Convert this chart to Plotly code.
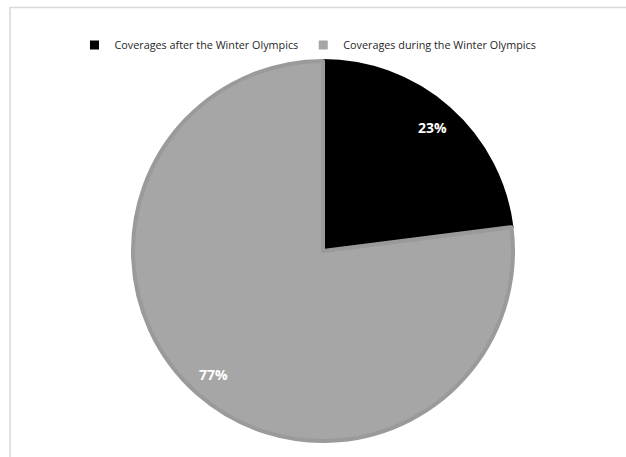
import math
import plotly.graph_objects as go

labels = ["Coverages after the Winter Olympics", "Coverages during the Winter Olympics"]
values = [23, 77]
text_labels = ["23%", "77%"]
colors = ["#000000", "#a6a6a6"]
line_colors = ["#000000", "#9a9a9a"]

W, H = 626, 457
cx, cy, r = 323, 251, 190  # pixel center/radius of the pie
dom_x = [(cx - r) / W, (cx + r) / W]
dom_y = [1 - (cy + r) / H, 1 - (cy - r) / H]

fig = go.Figure()
fig.add_trace(go.Pie(
    labels=labels, values=values, sort=False, direction="clockwise", rotation=0,
    marker=dict(colors=colors, line=dict(color=line_colors, width=4)),
    textinfo="none", hoverinfo="label+percent", showlegend=False,
    domain=dict(x=dom_x, y=dom_y),
))

# legend entries with small square markers
for lab, col in zip(labels, colors):
    fig.add_trace(go.Scatter(x=[None], y=[None], mode="markers", name=lab,
                             marker=dict(symbol="square", size=9, color=col), showlegend=True))

# labels placed at mid-angle of each slice
total = sum(values)
cum = 0
annotations = []
for v, t in zip(values, text_labels):
    mid = (cum + v / 2) / total * 2 * math.pi
    cum += v
    px = cx + 0.87 * r * math.sin(mid)
    py = cy - 0.87 * r * math.cos(mid)
    annotations.append(dict(x=px / W, y=1 - py / H, xref="paper", yref="paper", text=t,
                            xanchor="center", yanchor="middle", showarrow=False,
                            font=dict(family="Open Sans, DejaVu Sans, sans-serif", size=14,
                                      color="white", weight="bold")))

fig.update_layout(
    width=W, height=H,
    margin=dict(l=0, r=0, t=0, b=0),
    paper_bgcolor="white", plot_bgcolor="white",
    xaxis=dict(visible=False), yaxis=dict(visible=False),
    showlegend=True,
    legend=dict(orientation="h", x=0.492, xanchor="center", y=1 - 45 / H, yanchor="middle",
                font=dict(family="Open Sans, sans-serif", size=10.8, color="#262626"),
                itemclick=False, traceorder="normal", bgcolor="rgba(0,0,0,0)"),
    annotations=annotations,
    shapes=[dict(type="rect", xref="paper", yref="paper", x0=10 / W, x1=1.05, y0=-0.05, y1=1 - 7.5 / H,
                 line=dict(color="#d9d9d9", width=1.5), fillcolor="rgba(0,0,0,0)", layer="below")],
)

fig.write_html("out.html", config={"displayModeBar": False},
               post_script="document.body.style.margin='0px';")
